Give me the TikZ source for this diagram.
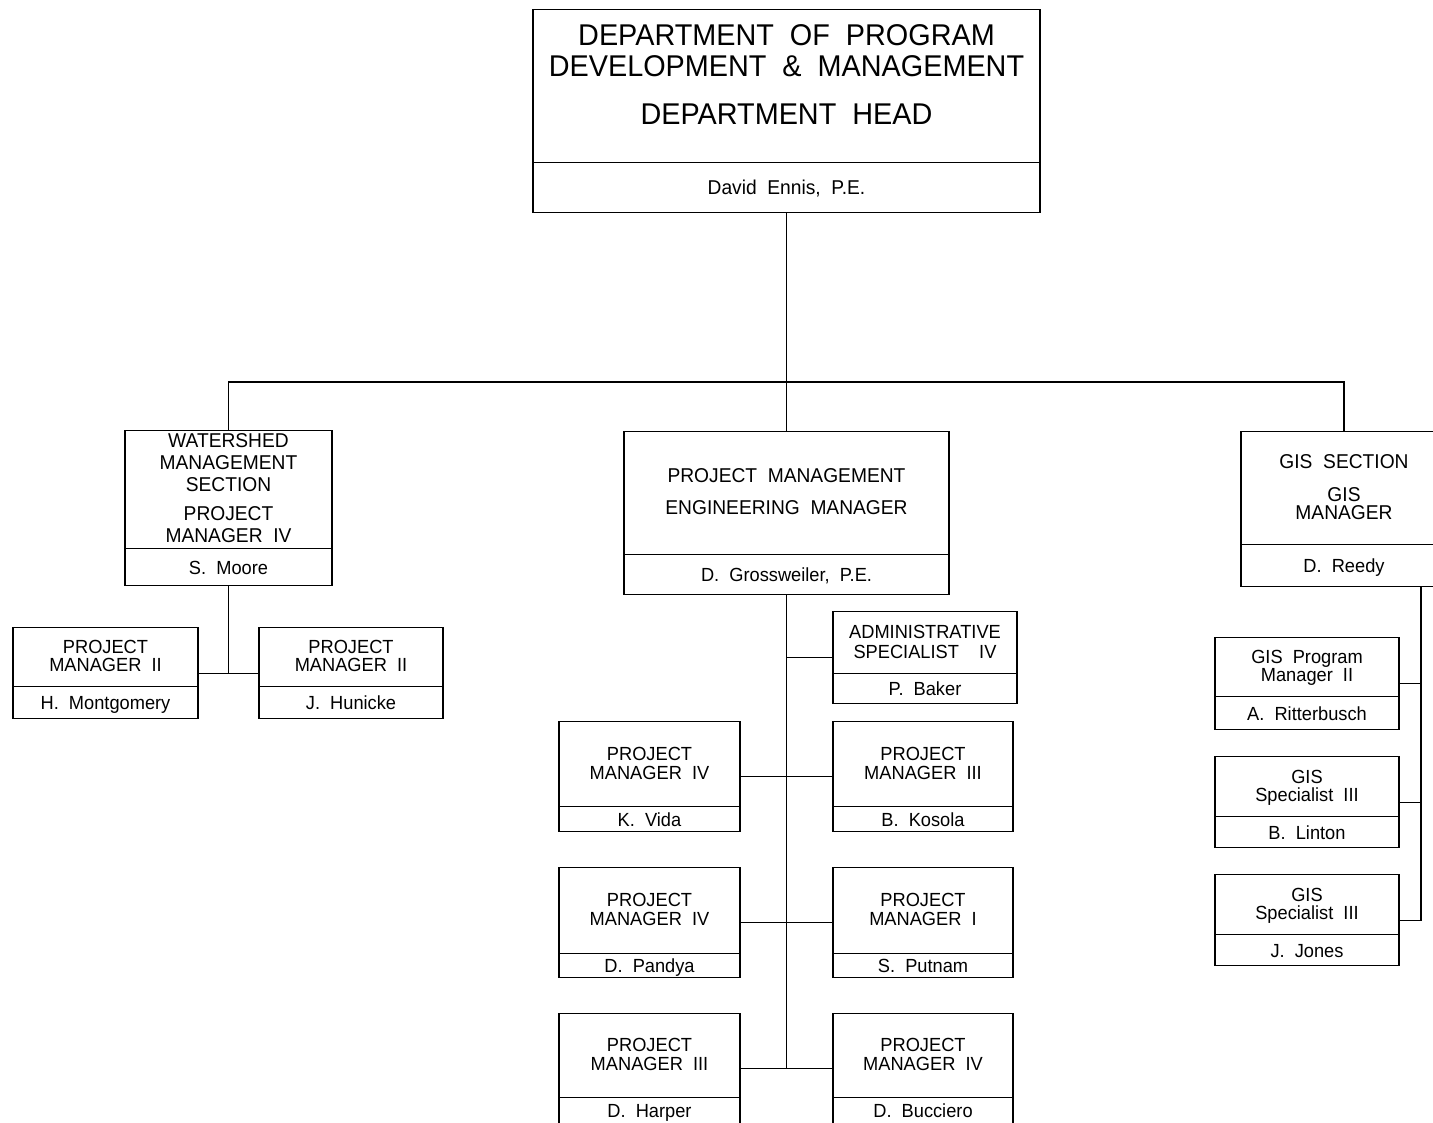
\documentclass[tikz,border=0pt]{standalone}
\usepackage{fontspec}
\setmainfont{Liberation Sans}[FakeStretch=0.96, WordSpace=2]
\usepackage{tikz}
\tikzset{orgframe/.style={rectangle, draw=black, line width=1.3pt, inner sep=0pt},
  titletext/.style={align=center, inner sep=0pt, text depth=0pt, font=\fontsize{19}{19}\selectfont},
  persontext/.style={inner sep=0pt, text height=13.6pt, text depth=0pt, font=\fontsize{19}{19}\selectfont},
  link/.style={draw=black, line width=1.3pt}}
% box with a title part and a name part
\newcommand{\orgbox}[9][]{%
  \pgfmathsetmacro\titleoff{(#6-#7)/2}%
  \pgfmathsetmacro\nameoff{#7/2}%
  \node[orgframe, minimum width=#5, minimum height=#6, anchor=north] (#2) at (#3,#4) {};
  \draw[line width=1.3pt] ([yshift=#7]#2.south west) -- ([yshift=#7]#2.south east);
  \node[persontext] (#2-name) at ([yshift=\nameoff pt]#2.south) {#9};
  \node[titletext, #1] (#2-title) at ([yshift=-\titleoff pt]#2.north) {#8};
}

\begin{document}
\begin{tikzpicture}
        \useasboundingbox (0pt, 0pt) rectangle (1433pt, -1123pt);
        \clip (0pt, 0pt) rectangle (1433pt, -1123pt);
        % Head
        \orgbox[font=\fontsize{30}{31}\selectfont, yshift=10pt]{head}{786.5pt}{-9pt}{507pt}{203pt}{51pt}{DEPARTMENT OF PROGRAM\\DEVELOPMENT \& MANAGEMENT\\[17pt]DEPARTMENT HEAD}{\fontsize{20}{20}\selectfont David Ennis, P.E.}
        % Sections
        \orgbox[font=\fontsize{20}{22}\selectfont]{watershed}{228.5pt}{-430pt}{207pt}{155pt}{38pt}{WATERSHED\\MANAGEMENT\\SECTION\\[7pt]PROJECT\\MANAGER IV}{S. Moore}
        \orgbox[font=\fontsize{20}{20}\selectfont]{pmeng}{786.5pt}{-431pt}{325pt}{163pt}{41pt}{PROJECT MANAGEMENT\\[12pt]ENGINEERING MANAGER}{D. Grossweiler, P.E.}
        \orgbox[font=\fontsize{20}{18}\selectfont]{gissec}{1344pt}{-431pt}{206pt}{155pt}{43pt}{GIS SECTION\\[15pt]GIS\\MANAGER}{D. Reedy}
        % Watershed staff
        \orgbox[font=\fontsize{19}{17.5}\selectfont]{montgomery}{105.5pt}{-627pt}{185pt}{91pt}{33pt}{PROJECT\\MANAGER II}{H. Montgomery}
        \orgbox[font=\fontsize{19}{17.5}\selectfont]{hunicke}{351pt}{-627pt}{184pt}{91pt}{33pt}{PROJECT\\MANAGER II}{J. Hunicke}
        % Project management staff
        \orgbox[font=\fontsize{19}{20}\selectfont]{baker}{925pt}{-611pt}{184pt}{92pt}{31pt}{ADMINISTRATIVE\\SPECIALIST~~IV}{P. Baker}
        \orgbox{vida}{649.5pt}{-721pt}{181pt}{110pt}{26pt}{PROJECT\\MANAGER IV}{K. Vida}
        \orgbox{kosola}{923pt}{-721pt}{180pt}{110pt}{26pt}{PROJECT\\MANAGER III}{B. Kosola}
        \orgbox{pandya}{649.5pt}{-867pt}{181pt}{110pt}{25pt}{PROJECT\\MANAGER IV}{D. Pandya}
        \orgbox{putnam}{923pt}{-867pt}{180pt}{110pt}{25pt}{PROJECT\\MANAGER I}{S. Putnam}
        \orgbox{harper}{649.5pt}{-1013pt}{181pt}{110pt}{27pt}{PROJECT\\MANAGER III}{D. Harper}
        \orgbox{bucciero}{923pt}{-1013pt}{180pt}{110pt}{27pt}{PROJECT\\MANAGER IV}{D. Bucciero}
        % GIS staff
        \orgbox[font=\fontsize{19}{18}\selectfont]{ritterbusch}{1307pt}{-637pt}{184pt}{92pt}{34pt}{GIS Program\\Manager II}{A. Ritterbusch}
        \orgbox[font=\fontsize{19}{18}\selectfont]{linton}{1307pt}{-756pt}{184pt}{91pt}{32pt}{GIS\\Specialist III}{B. Linton}
        \orgbox[font=\fontsize{19}{18}\selectfont]{jones}{1307pt}{-874pt}{184pt}{91pt}{32pt}{GIS\\Specialist III}{J. Jones}
        % Links
        \coordinate (bus) at (786.5pt, -382pt);
        \draw[link] (head.south) -- (bus);
        \draw[link] (watershed.north) |- (bus) -| (gissec.north);
        \draw[link] (bus) -- (pmeng.north);
        \draw[link] (watershed.south) |- (montgomery.east);
        \draw[link] (watershed.south) |- (hunicke.west);
        \draw[link] (pmeng.south) -- (pmeng.south |- harper.east);
        \draw[link] (baker.west) -- (baker.west -| pmeng.south);
        \draw[link] (vida.east) -- (kosola.west);
        \draw[link] (pandya.east) -- (putnam.west);
        \draw[link] (harper.east) -- (bucciero.west);
        \coordinate (gisbus) at ([xshift=77pt]gissec.south);
        \draw[link] (gisbus) |- (jones.east);
        \draw[link] (ritterbusch.east) -- (ritterbusch.east -| gisbus);
        \draw[link] (linton.east) -- (linton.east -| gisbus);
\end{tikzpicture}
\end{document}
